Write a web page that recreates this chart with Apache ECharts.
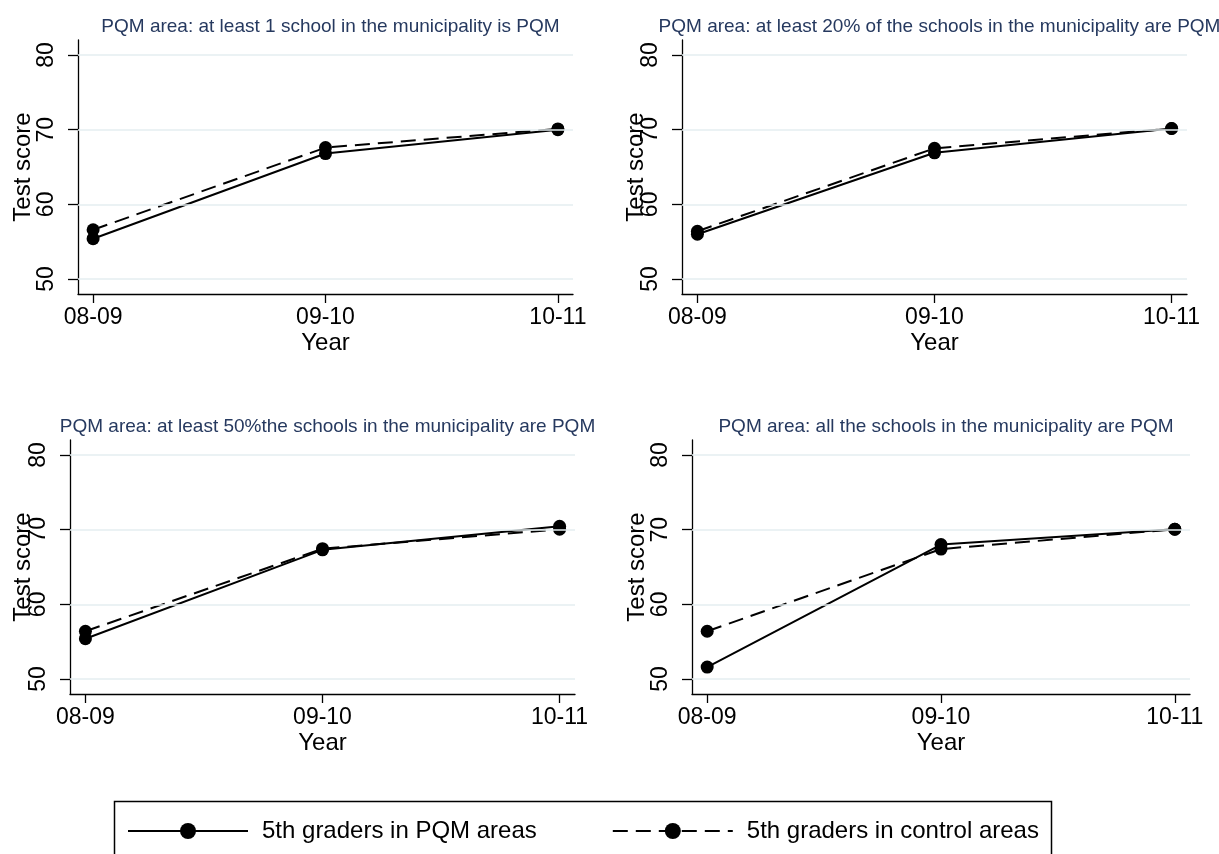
<!DOCTYPE html>
<html>
<head>
<meta charset="utf-8">
<script src="https://cdn.jsdelivr.net/npm/echarts@6/dist/echarts.min.js"></script>
<style>
html,body{margin:0;padding:0;background:#fff;}
#c{width:1219px;height:854px;}
</style>
</head>
<body>
<div id="c"></div>
<script>
// ---- data ----
var years = ['08-09', '09-10', '10-11'];
var yTicks = [50, 60, 70, 80];
var panelTitles = [
  'PQM area: at least 1 school in the municipality is PQM',
  'PQM area: at least 20% of the schools in the municipality are PQM',
  'PQM area: at least 50%the schools in the municipality are PQM',
  'PQM area: all the schools in the municipality are PQM'
];
var seriesNames = ['5th graders in PQM areas', '5th graders in control areas'];
var pqm1 = [55.4, 66.8, 70.0];
var ctl1 = [56.6, 67.6, 70.1];
var pqm2 = [56.0, 66.9, 70.15];
var ctl2 = [56.4, 67.5, 70.15];
var pqm3 = [55.4, 67.3, 70.45];
var ctl3 = [56.4, 67.45, 70.05];
var pqm4 = [51.6, 68.0, 70.05];
var ctl4 = [56.4, 67.4, 70.05];

var pqmAll = [pqm1, pqm2, pqm3, pqm4];
var ctlAll = [ctl1, ctl2, ctl3, ctl4];

// ---- layout ----
var FONT = '"Liberation Sans", Arial, Helvetica, sans-serif';
var grids = [
  {left: 78, top: 40, width: 495, height: 254},
  {left: 682, top: 40, width: 505, height: 254},
  {left: 70, top: 440, width: 505, height: 254},
  {left: 692, top: 440, width: 498, height: 254}
];
var yNameGaps = [43, 34, 35, 43];
var pad = 0.065;

function pts(arr) { return arr.map(function (v, i) { return [i, v]; }); }

var option = {
  animation: false,
  backgroundColor: '#fff',
  textStyle: {fontFamily: FONT},
  title: [],
  grid: [],
  xAxis: [],
  yAxis: [],
  series: [],
  legend: {
    data: seriesNames,
    left: 122, top: 814,
    itemWidth: 120, itemHeight: 20,
    itemGap: 75,
    textStyle: {fontSize: 24, color: '#000', fontFamily: FONT, padding: [0, 0, 0, 9]}
  },
  graphic: [{
    type: 'rect', left: 112, top: 799,
    shape: {width: 937, height: 90},
    style: {fill: 'none', stroke: '#000', lineWidth: 1.5}
  }]
};

grids.forEach(function (g, k) {
  option.grid.push({left: g.left, top: g.top, width: g.width, height: g.height, containLabel: false});
  option.title.push({
    text: panelTitles[k],
    left: g.left + g.width / 2,
    top: g.top - 28,
    textAlign: 'center',
    textStyle: {fontSize: 19, fontWeight: 'normal', color: '#26395f', fontFamily: FONT}
  });
  option.xAxis.push({
    type: 'value', gridIndex: k, min: -pad, max: 2 + pad,
    name: 'Year', nameLocation: 'middle', nameGap: 37, nameMoveOverlap: false,
    nameTextStyle: {fontSize: 24, color: '#000', fontFamily: FONT},
    axisLine: {show: true, onZero: false, lineStyle: {color: '#000', width: 1.3}},
    axisTick: {show: true, length: 9, customValues: [0, 1, 2], lineStyle: {color: '#000', width: 1.3}},
    axisLabel: {customValues: [0, 1, 2], margin: 12, fontSize: 23, color: '#000', fontFamily: FONT,
      formatter: function (v) { return years[Math.round(v)]; }},
    splitLine: {show: false}
  });
  option.yAxis.push({
    type: 'value', gridIndex: k, min: 48, max: 82,
    name: 'Test score', nameLocation: 'middle', nameGap: yNameGaps[k], nameMoveOverlap: false,
    nameTextStyle: {fontSize: 24, color: '#000', fontFamily: FONT},
    axisLine: {show: true, onZero: false, lineStyle: {color: '#000', width: 1.3}},
    axisTick: {show: true, length: 10, customValues: yTicks, lineStyle: {color: '#000', width: 1.3}},
    axisLabel: {customValues: yTicks, rotate: 90, margin: 20, fontSize: 23, color: '#000', fontFamily: FONT},
    splitLine: {show: false}
  });
  // gridlines
  option.series.push({
    type: 'line', xAxisIndex: k, yAxisIndex: k, data: [], z: 1, silent: true,
    markLine: {
      silent: true, symbol: 'none', label: {show: false},
      lineStyle: {color: '#e4eef0', width: 1.6, type: 'solid'},
      data: yTicks.map(function (t) { return {yAxis: t}; })
    }
  });
  option.series.push({
    name: seriesNames[1], type: 'line', xAxisIndex: k, yAxisIndex: k, z: 3,
    data: pts(ctlAll[k]),
    symbol: 'circle', symbolSize: 13,
    itemStyle: {color: '#000'},
    lineStyle: {color: '#000', width: 2, type: [15, 8]}
  });
  option.series.push({
    name: seriesNames[0], type: 'line', xAxisIndex: k, yAxisIndex: k, z: 4,
    data: pts(pqmAll[k]),
    symbol: 'circle', symbolSize: 13,
    itemStyle: {color: '#000'},
    lineStyle: {color: '#000', width: 2, type: 'solid'}
  });
});

var chart = echarts.init(document.getElementById('c'), null, {renderer: 'canvas'});
chart.setOption(option);
</script>
</body>
</html>
